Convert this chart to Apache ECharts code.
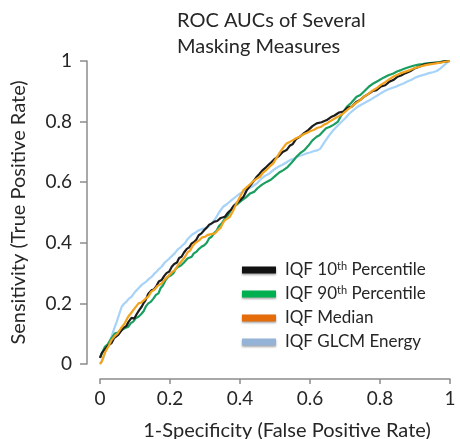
<!DOCTYPE html>
<html><head><meta charset="utf-8">
<script src="https://cdn.jsdelivr.net/npm/echarts@6/dist/echarts.min.js"></script>
<style>html,body{margin:0;padding:0;background:#fff}#c{width:460px;height:439px}</style>
</head><body><div id="c"></div>
<script>
const seriesNames = ['IQF 10th Percentile','IQF 90th Percentile','IQF Median','IQF GLCM Energy'];
const xTicks = [0,0.2,0.4,0.6,0.8,1];
const yTicks = [0,0.2,0.4,0.6,0.8,1];
const rocP10 = [[0,0.02],[0.005,0.036],[0.01,0.03],[0.015,0.05],[0.024,0.062],[0.033,0.069],[0.04,0.085],[0.045,0.09],[0.052,0.096],[0.062,0.112],[0.068,0.12],[0.075,0.125],[0.082,0.14],[0.09,0.152],[0.098,0.15],[0.105,0.165],[0.112,0.178],[0.119,0.189],[0.124,0.2],[0.13,0.21],[0.138,0.232],[0.148,0.244],[0.154,0.246],[0.16,0.255],[0.168,0.272],[0.176,0.277],[0.183,0.29],[0.19,0.30],[0.198,0.305],[0.205,0.321],[0.212,0.33],[0.22,0.335],[0.226,0.35],[0.233,0.354],[0.24,0.368],[0.248,0.38],[0.255,0.385],[0.262,0.398],[0.268,0.402],[0.275,0.41],[0.282,0.425],[0.29,0.431],[0.298,0.442],[0.305,0.45],[0.312,0.46],[0.319,0.464],[0.327,0.47],[0.335,0.472],[0.345,0.482],[0.357,0.486],[0.366,0.5],[0.375,0.51],[0.382,0.522],[0.39,0.53],[0.4,0.54],[0.41,0.552],[0.42,0.575],[0.43,0.59],[0.44,0.605],[0.448,0.618],[0.456,0.628],[0.465,0.64],[0.475,0.65],[0.486,0.662],[0.498,0.676],[0.51,0.685],[0.522,0.7],[0.533,0.706],[0.542,0.72],[0.55,0.725],[0.56,0.742],[0.571,0.75],[0.583,0.762],[0.595,0.772],[0.607,0.785],[0.619,0.794],[0.633,0.798],[0.648,0.805],[0.66,0.815],[0.67,0.82],[0.683,0.83],[0.695,0.833],[0.708,0.846],[0.72,0.85],[0.732,0.865],[0.743,0.871],[0.754,0.882],[0.765,0.89],[0.778,0.9],[0.79,0.904],[0.803,0.916],[0.815,0.92],[0.827,0.932],[0.838,0.937],[0.85,0.948],[0.86,0.952],[0.873,0.96],[0.886,0.966],[0.898,0.975],[0.91,0.98],[0.922,0.987],[0.933,0.99],[0.955,0.994],[0.97,0.995],[0.981,0.998],[1,1]];
const rocP90 = [[0,0.02],[0.007,0.04],[0.014,0.057],[0.022,0.065],[0.03,0.08],[0.037,0.092],[0.043,0.101],[0.052,0.104],[0.06,0.11],[0.07,0.118],[0.081,0.123],[0.088,0.135],[0.095,0.14],[0.103,0.152],[0.11,0.156],[0.118,0.165],[0.125,0.175],[0.131,0.19],[0.138,0.2],[0.145,0.205],[0.152,0.215],[0.16,0.228],[0.167,0.233],[0.173,0.25],[0.18,0.26],[0.188,0.278],[0.195,0.288],[0.202,0.292],[0.21,0.30],[0.217,0.315],[0.224,0.321],[0.232,0.326],[0.24,0.335],[0.25,0.348],[0.262,0.354],[0.268,0.365],[0.275,0.37],[0.283,0.38],[0.29,0.387],[0.298,0.392],[0.305,0.40],[0.312,0.415],[0.319,0.42],[0.326,0.432],[0.333,0.44],[0.34,0.455],[0.348,0.464],[0.356,0.478],[0.365,0.49],[0.373,0.505],[0.381,0.519],[0.393,0.528],[0.405,0.54],[0.417,0.55],[0.429,0.563],[0.44,0.568],[0.45,0.58],[0.463,0.592],[0.476,0.601],[0.488,0.608],[0.50,0.62],[0.512,0.632],[0.524,0.64],[0.536,0.65],[0.548,0.665],[0.56,0.682],[0.571,0.695],[0.583,0.705],[0.595,0.72],[0.607,0.738],[0.619,0.75],[0.627,0.755],[0.635,0.765],[0.646,0.778],[0.657,0.783],[0.668,0.79],[0.68,0.80],[0.688,0.818],[0.695,0.83],[0.7,0.84],[0.705,0.849],[0.718,0.862],[0.733,0.882],[0.744,0.888],[0.755,0.90],[0.768,0.915],[0.781,0.926],[0.795,0.935],[0.81,0.945],[0.824,0.953],[0.838,0.959],[0.85,0.966],[0.86,0.97],[0.873,0.976],[0.886,0.981],[0.898,0.985],[0.91,0.988],[0.922,0.99],[0.933,0.992],[0.96,0.995],[0.98,0.998],[1,1]];
const rocMedian = [[0,0.0],[0.005,0.008],[0.01,0.025],[0.015,0.04],[0.024,0.058],[0.033,0.079],[0.042,0.092],[0.05,0.10],[0.06,0.118],[0.071,0.135],[0.08,0.155],[0.09,0.17],[0.1,0.185],[0.11,0.2],[0.118,0.203],[0.125,0.21],[0.132,0.218],[0.138,0.222],[0.146,0.238],[0.155,0.245],[0.165,0.258],[0.176,0.266],[0.186,0.28],[0.195,0.29],[0.205,0.302],[0.214,0.31],[0.222,0.325],[0.23,0.335],[0.237,0.345],[0.243,0.354],[0.25,0.368],[0.258,0.375],[0.265,0.39],[0.271,0.398],[0.278,0.404],[0.285,0.41],[0.292,0.418],[0.3,0.42],[0.308,0.426],[0.315,0.428],[0.322,0.43],[0.329,0.431],[0.337,0.442],[0.345,0.45],[0.351,0.465],[0.357,0.475],[0.364,0.48],[0.371,0.486],[0.38,0.505],[0.39,0.53],[0.4,0.552],[0.41,0.574],[0.422,0.586],[0.435,0.60],[0.446,0.61],[0.457,0.618],[0.466,0.632],[0.475,0.64],[0.485,0.652],[0.495,0.662],[0.505,0.682],[0.515,0.70],[0.524,0.715],[0.533,0.728],[0.542,0.733],[0.55,0.738],[0.56,0.745],[0.571,0.75],[0.58,0.757],[0.59,0.762],[0.6,0.768],[0.61,0.772],[0.62,0.779],[0.63,0.782],[0.64,0.79],[0.648,0.794],[0.66,0.803],[0.67,0.81],[0.683,0.818],[0.695,0.827],[0.708,0.84],[0.72,0.85],[0.732,0.862],[0.743,0.871],[0.754,0.882],[0.765,0.89],[0.778,0.902],[0.79,0.91],[0.803,0.922],[0.815,0.93],[0.827,0.94],[0.838,0.948],[0.85,0.955],[0.86,0.96],[0.873,0.965],[0.886,0.97],[0.898,0.976],[0.91,0.98],[0.922,0.984],[0.933,0.987],[0.96,0.992],[0.98,0.996],[1,1]];
const rocGlcm = [[0,0.0],[0.005,0.0],[0.01,0.02],[0.015,0.04],[0.024,0.065],[0.033,0.09],[0.04,0.115],[0.048,0.14],[0.055,0.165],[0.062,0.189],[0.068,0.198],[0.075,0.205],[0.082,0.215],[0.09,0.222],[0.1,0.238],[0.11,0.25],[0.12,0.262],[0.13,0.27],[0.139,0.28],[0.148,0.288],[0.155,0.298],[0.162,0.305],[0.169,0.314],[0.176,0.321],[0.185,0.335],[0.195,0.345],[0.205,0.356],[0.214,0.366],[0.222,0.378],[0.23,0.385],[0.236,0.392],[0.243,0.399],[0.25,0.412],[0.257,0.42],[0.264,0.428],[0.271,0.432],[0.28,0.44],[0.29,0.445],[0.3,0.448],[0.309,0.452],[0.32,0.465],[0.33,0.48],[0.34,0.5],[0.352,0.519],[0.363,0.528],[0.375,0.54],[0.388,0.552],[0.4,0.563],[0.412,0.57],[0.425,0.58],[0.436,0.586],[0.448,0.596],[0.46,0.61],[0.47,0.62],[0.483,0.628],[0.495,0.64],[0.508,0.65],[0.52,0.657],[0.532,0.665],[0.543,0.673],[0.555,0.678],[0.565,0.685],[0.578,0.69],[0.59,0.695],[0.6,0.698],[0.61,0.702],[0.62,0.705],[0.629,0.71],[0.64,0.73],[0.652,0.75],[0.664,0.768],[0.676,0.783],[0.688,0.797],[0.70,0.81],[0.712,0.826],[0.724,0.838],[0.735,0.848],[0.745,0.855],[0.758,0.863],[0.771,0.871],[0.783,0.88],[0.795,0.888],[0.807,0.897],[0.819,0.904],[0.832,0.91],[0.845,0.915],[0.856,0.921],[0.867,0.926],[0.878,0.932],[0.89,0.938],[0.902,0.946],[0.914,0.951],[0.927,0.955],[0.94,0.96],[0.951,0.963],[0.962,0.967],[0.972,0.975],[0.981,0.984],[0.99,0.993],[0.995,1],[1,1]];

const lineColors = ['#1c1c1c','#1a9e5f','#f3a21d','#a6d3f7'];
const legendColors = ['#111111','#00b050','#e46c0a','#95b3d7'];
const allData = [rocP10, rocP90, rocMedian, rocGlcm];
const FONT = 'Lato';
const TXT = '#262626';

const chart = echarts.init(document.getElementById('c'), null, {renderer:'canvas'});
chart.setOption({
  animation:false,
  backgroundColor:'#fff',
  title:{text:'ROC AUCs of Several\nMasking Measures', left:172, top:3,
    textStyle:{fontFamily:FONT, fontSize:20, fontWeight:'normal', color:TXT, lineHeight:26}},
  grid:{left:100, right:10, top:61, bottom:75, containLabel:false, outerBoundsMode:'none'},
  legend:{
    orient:'vertical', left:237, top:256, itemWidth:34, itemHeight:7, itemGap:6,
    icon:'rect',
    data: seriesNames.map((n,i)=>({name:n, itemStyle:{color:legendColors[i], shadowBlur:2, shadowColor:'rgba(0,0,0,0.35)', shadowOffsetY:1}})),
    formatter:function(name){
      if(name==='IQF 10th Percentile') return '{f|IQF 10}{s|th}{a| Percentile}';
      if(name==='IQF 90th Percentile') return '{f|IQF 90}{s|th}{a| Percentile}';
      return '{f|'+name+'}';
    },
    textStyle:{fontFamily:FONT, fontSize:17, color:TXT, lineHeight:18,
      rich:{
        f:{fontFamily:FONT, fontSize:17, color:TXT, lineHeight:18, padding:[0,0,0,4]},
        a:{fontFamily:FONT, fontSize:17, color:TXT, lineHeight:18},
        s:{fontFamily:FONT, fontSize:11, color:TXT, lineHeight:18, verticalAlign:'top', padding:[0,0,6,0]}}}
  },
  xAxis:{type:'value', min:0, max:1, interval:0.2, offset:15,
    name:'1-Specificity (False Positive Rate)', nameLocation:'middle', nameGap:42,
    nameTextStyle:{fontFamily:FONT, fontSize:20, color:TXT, padding:[0,0,0,24]},
    axisLine:{show:true, onZero:false, lineStyle:{color:'#8c8c8c', width:1.5}},
    axisTick:{show:true, length:5, lineStyle:{color:'#8c8c8c', width:1.5}},
    axisLabel:{fontFamily:FONT, fontSize:19, color:TXT, margin:10, formatter:v=>String(v)},
    splitLine:{show:false}},
  yAxis:{type:'value', min:0, max:1, interval:0.2, offset:13,
    name:'Sensitivity (True Positive Rate)', nameLocation:'middle', nameGap:58,
    nameTextStyle:{fontFamily:FONT, fontSize:20, color:TXT},
    axisLine:{show:true, onZero:false, lineStyle:{color:'#8c8c8c', width:1.5}},
    axisTick:{show:true, length:7, lineStyle:{color:'#8c8c8c', width:1.5}},
    axisLabel:{fontFamily:FONT, fontSize:19, color:TXT, margin:15, formatter:v=>String(v)},
    splitLine:{show:false}},
  series: seriesNames.map((n,i)=>({
    name:n, type:'line', data:allData[i], showSymbol:false, symbol:'none',
    color:lineColors[i], itemStyle:{color:lineColors[i]},
    lineStyle:{color:lineColors[i], width:2.2}, z: [4,3,5,2][i]
  }))
});
</script></body></html>
